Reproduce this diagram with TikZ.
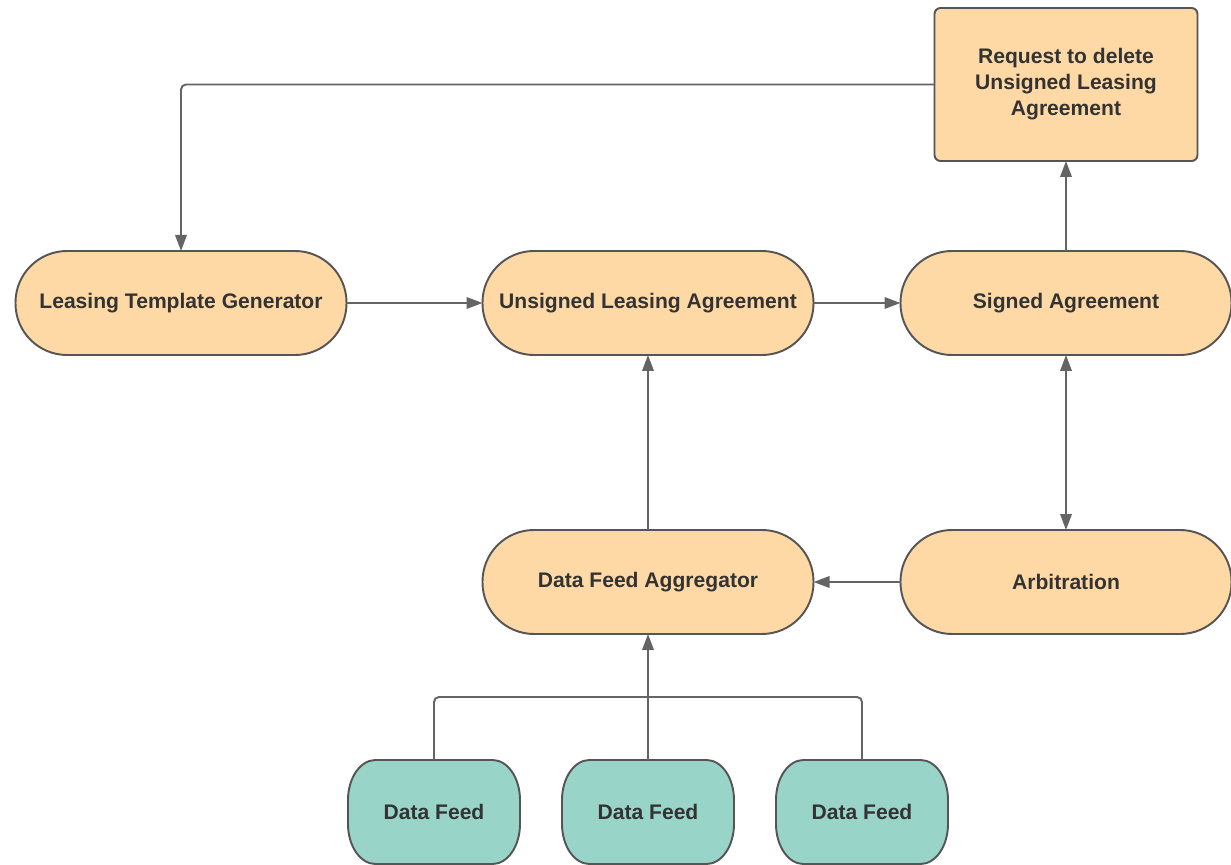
\documentclass[tikz,border=0pt]{standalone}
\usepackage{fontspec}
\setmainfont{Liberation Sans}
\usetikzlibrary{positioning,arrows.meta,calc,backgrounds}

\definecolor{peach}{RGB}{254,217,166}
\definecolor{feedteal}{RGB}{153,212,200}
\definecolor{edgegray}{RGB}{85,85,85}
\definecolor{linegray}{RGB}{100,100,100}
\definecolor{textgray}{RGB}{51,51,51}

\tikzset{
  box/.style={line width=1.1pt, text=textgray, align=center, outer sep=0pt,
    font=\bfseries\fontsize{12}{14.8}\selectfont},
  stadium/.style={box, draw=edgegray, fill=peach, rounded corners=1.03cm,
    minimum width=6.62cm, minimum height=2.08cm},
  request/.style={box, draw=edgegray, fill=peach, rounded corners=0.12cm,
    minimum width=5.26cm, minimum height=3.06cm},
  feed/.style={box, minimum width=3.44cm, minimum height=2.08cm},
  feedshape/.style={draw=edgegray, fill=feedteal, line width=1.1pt,
    x radius=0.55cm, y radius=0.8cm},
  flow/.style={draw=linegray, line width=1.1pt, -{Triangle[length=0.32cm,width=0.23cm]}},
  twoway/.style={draw=linegray, line width=1.1pt,
    {Triangle[length=0.32cm,width=0.23cm]}-{Triangle[length=0.32cm,width=0.23cm]}},
  link/.style={draw=linegray, line width=1.1pt}
}

\begin{document}
\begin{tikzpicture}
    \useasboundingbox (0,0) rectangle (24.62,17.28);
    \clip (0,0) rectangle (24.62,17.28);

    % top row
    \node [stadium] (template) at (3.62,11.22) {Leasing Template Generator};
    \node [stadium, right=2.72cm of template] (unsigned) {Unsigned Leasing Agreement};
    \node [stadium, right=1.74cm of unsigned] (signed) {Signed Agreement};
    \node [request, above=1.8cm of signed] (delete) {Request to delete\\Unsigned Leasing\\Agreement};

    % middle row
    \node [stadium, below=3.5cm of unsigned] (aggregator) {Data Feed Aggregator};
    \node [stadium, below=3.5cm of signed] (arbitration) {Arbitration};

    % data feeds
    \node [feed, below=2.52cm of aggregator] (feedb) {Data Feed};
    \node [feed, left=0.84cm of feedb] (feeda) {Data Feed};
    \node [feed, right=0.84cm of feedb] (feedc) {Data Feed};
    \begin{scope}[on background layer]
        \foreach \f in {feeda,feedb,feedc}
            \draw [feedshape] ($(\f.north west)+(0.55,0)$) -- ($(\f.north east)+(-0.55,0)$)
                arc [start angle=90, end angle=0] -- ($(\f.south east)+(0,0.8)$)
                arc [start angle=0, end angle=-90] -- ($(\f.south west)+(0.55,0)$)
                arc [start angle=270, end angle=180] -- ($(\f.north west)+(0,-0.8)$)
                arc [start angle=180, end angle=90] -- cycle;
    \end{scope}
    \coordinate (join) at ($(feedb.north)!0.5!(aggregator.south)$);

    \draw [flow, rounded corners=0.1cm] (delete.west) -| (template.north);
    \draw [flow] (template) -- (unsigned);
    \draw [flow] (unsigned) -- (signed);
    \draw [flow] (signed) -- (delete);
    \draw [twoway] (signed) -- (arbitration);
    \draw [flow] (arbitration) -- (aggregator);
    \draw [flow] (aggregator) -- (unsigned);

    \draw [link, rounded corners=0.1cm] (feeda.north) |- (join) -| (feedc.north);
    \draw [flow] (feedb.north) -- (aggregator.south);
\end{tikzpicture}
\end{document}
